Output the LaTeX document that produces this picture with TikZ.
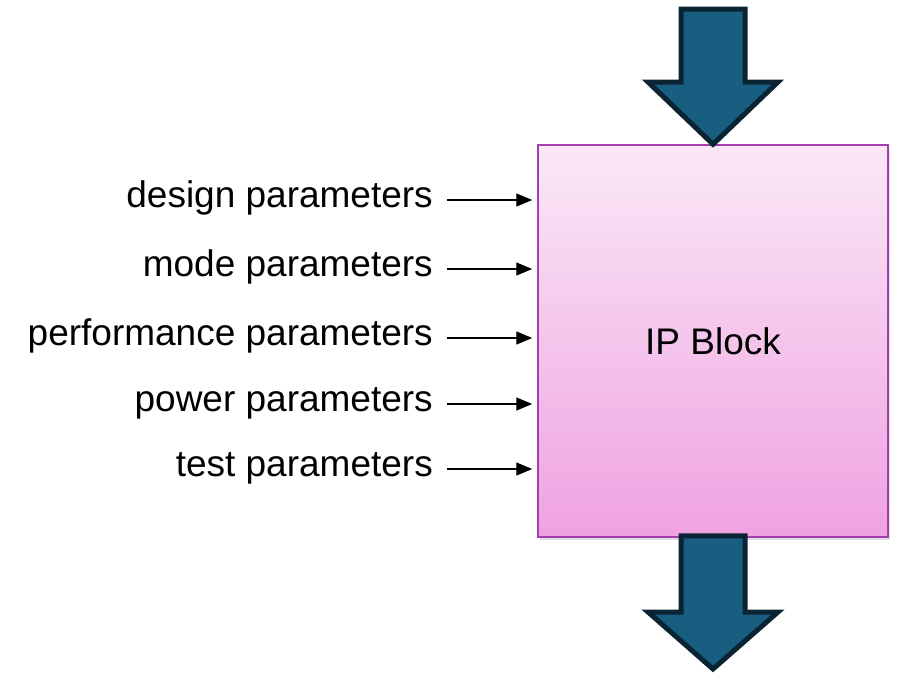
\documentclass[tikz,border=0pt]{standalone}
\usepackage{fontspec}
\setmainfont{Liberation Sans}
\usetikzlibrary{arrows.meta,shadows}
\definecolor{blocktop}{HTML}{FAE8F6}
\definecolor{blockbot}{HTML}{EFA2E1}
\definecolor{blockedge}{HTML}{A43FAE}
\definecolor{flowfill}{HTML}{175E80}
\definecolor{flowedge}{HTML}{0B2433}
\tikzset{
  ipbox/.style={draw=blockedge, line width=1.5pt, top color=blocktop, bottom color=blockbot,
    minimum width=350pt, minimum height=392pt, inner sep=0pt,
    drop shadow={opacity=0.25, shadow xshift=2pt, shadow yshift=-3pt},
    font=\fontsize{37}{44}\selectfont},
  paramlabel/.style={anchor=base east, inner sep=0pt, font=\fontsize{37}{44}\selectfont},
  paramarrow/.style={line width=1.4pt, -{Triangle[length=16pt,width=13pt]}, shorten >=5pt},
  flowarrow/.style={fill=flowfill, draw=flowedge, line width=5pt, line join=miter, miter limit=10}
}
\begin{document}
\begin{tikzpicture}[x=1pt,y=-1pt]
  \useasboundingbox (0,0) rectangle (902,673);
  % central block
  \node[ipbox] (ipblock) at (713,341) {IP Block};
  % parameter inputs on the left (label baselines)
  \foreach \name/\txt/\yy in {dsg/design parameters/207, mod/mode parameters/276,
      prf/performance parameters/345, pwr/power parameters/411, tst/test parameters/476} {
    \node[paramlabel] (\name) at (433,\yy) {\txt};
    \coordinate (\name-out) at ([xshift=14pt,yshift=7pt]\name.base east);
    \coordinate (\name-in) at (ipblock.west |- \name-out);
    \draw[paramarrow] (\name-out) -- (\name-in);
  }
  % block arrows entering and leaving the block
  \coordinate (topin) at (ipblock.north);
  \coordinate (botout) at (ipblock.south);
  \draw[flowarrow] (681,9) -- (745,9) -- (745,82) -- (778,82) -- (topin) -- (648,82) -- (681,82) -- cycle;
  \draw[flowarrow] ([xshift=-32pt,yshift=2pt]botout) -- ([xshift=32pt,yshift=2pt]botout) -- (745,612)
    -- (778,612) -- (713,669) -- (648,612) -- (681,612) -- cycle;
\end{tikzpicture}
\end{document}
